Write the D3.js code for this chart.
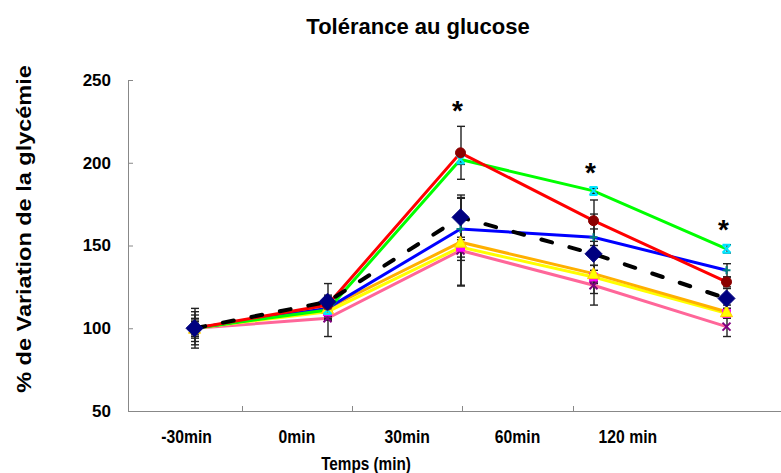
<!DOCTYPE html>
<html>
<head>
<meta charset="utf-8">
<script src="https://cdn.jsdelivr.net/npm/d3@7"></script>
<style>
  body { margin: 0; background: #fff; }
  svg { display: block; font-family: "Liberation Sans", Arial, sans-serif; }
  .axis path, .axis line { stroke: #888; }
  .axis text { font-size: 17px; font-weight: bold; fill: #000; }
  .errbar line { stroke: #222; stroke-width: 1.4; }
</style>
</head>
<body>
<div id="line-chart"></div>
<script>
// Data
var CATEGORIES = ["-30min", "0min", "30min", "60min", "120 min"];
var SIGNIFICANT = ["30min", "60min", "120 min"];

var RED_VALUES = [100, 114, 206, 165, 128];
var RED_ERR = [4, 6, 16, 12.5, 3];
var GREEN_VALUES = [100, 111, 202, 183, 148];
var GREEN_ERR = [3, 4, 3, 1.5, 2.5];
var BLUE_VALUES = [100, 112, 160, 155, 135];
var BLUE_ERR = [5, 7, 19, 5, 4];
var DASHED_VALUES = [100, 116, 167, 145, 118];
var DASHED_ERR = [12, 11, 13.5, 24, 6];
var ORANGE_VALUES = [100, 112, 152, 133, 110];
var ORANGE_ERR = [10, 6, 26.5, 5, 4];
var YELLOW_VALUES = [100, 110, 149, 131, 109];
var YELLOW_ERR = [8, 5, 6, 4, 3];
var PINK_VALUES = [100, 106, 147, 126, 101];
var PINK_ERR = [6, 11, 21, 12, 6];

var Y_TICKS = [50, 100, 150, 200, 250];

// Marker shapes
var MARKERS = {
  circle: "M5,0A5,5,0,1,1,-5,0A5,5,0,1,1,5,0Z",
  star: "M-4,-4L4,4M4,-4L-4,4M-4,-4H4M-4,4H4",
  plus: "M-4,0H4M0,-4V4",
  diamond: "M0,-8.5L8.5,0L0,8.5L-8.5,0Z",
  triangle: "M0,-6L6,5H-6Z",
  square: "M-4,-4H4V4H-4Z",
  cross: "M-4,-4L4,4M4,-4L-4,4"
};

// drawn bottom to top
var SERIES = [
  { values: PINK_VALUES, err: PINK_ERR, line: "#ff6699", marker: "cross", mColor: "#800080", filled: false },
  { values: YELLOW_VALUES, err: YELLOW_ERR, line: "#ffff00", marker: "square", mColor: "#ff00ff", filled: true },
  { values: ORANGE_VALUES, err: ORANGE_ERR, line: "#ffb000", marker: "triangle", mColor: "#ffff00", filled: true },
  { values: BLUE_VALUES, err: BLUE_ERR, line: "#0000ff", marker: "plus", mColor: "#008080", filled: false },
  { values: GREEN_VALUES, err: GREEN_ERR, line: "#00ff00", marker: "star", mColor: "#00e5ff", filled: false },
  { values: RED_VALUES, err: RED_ERR, line: "#ff0000", marker: "circle", mColor: "#8b0000", filled: true },
  { values: DASHED_VALUES, err: DASHED_ERR, line: "#000000", marker: "diamond", mColor: "#000080", filled: true, dashed: true }
];

var renderLineChart = function(config) {
  var width = 781;
  var height = 473;

  var svg = d3.select(config.container)
    .append("svg")
    .attr("width", width)
    .attr("height", height);

  // scales: category band for the axis, point scale for the marks
  var xBand = d3.scaleBand()
    .domain(CATEGORIES)
    .range([131.5, 683]);

  var xScale = d3.scalePoint()
    .domain(CATEGORIES)
    .range([128, 793])
    .padding(0.5);

  var yScale = d3.scaleLinear()
    .domain([50, 250])
    .range([411, 80]);

  // title
  svg.append("text")
    .attr("x", 418)
    .attr("y", 34)
    .attr("text-anchor", "middle")
    .style("font-size", "22px")
    .style("font-weight", "bold")
    .text("Tolérance au glucose");

  // y axis
  var yAxis = d3.axisLeft(yScale)
    .tickValues(Y_TICKS)
    .tickSizeInner(-5)
    .tickSizeOuter(0)
    .tickPadding(17);

  svg.append("g")
    .attr("class", "y axis")
    .attr("transform", "translate(128,0)")
    .call(yAxis);

  // x axis
  var xAxis = svg.append("g")
    .attr("class", "x axis")
    .attr("transform", "translate(0,411)");

  xAxis.append("line")
    .attr("x1", 128)
    .attr("x2", width)
    .attr("y1", 0.5)
    .attr("y2", 0.5);

  xAxis.selectAll("line.tick")
    .data(CATEGORIES.slice(1))
    .enter()
    .append("line")
    .attr("class", "tick")
    .attr("x1", d => Math.round(xBand(d)) + 0.5)
    .attr("x2", d => Math.round(xBand(d)) + 0.5)
    .attr("y1", 0)
    .attr("y2", -5);

  xAxis.selectAll("text")
    .data(CATEGORIES)
    .enter()
    .append("text")
    .attr("text-anchor", "middle")
    .attr("transform", d => `translate(${xBand(d) + xBand.bandwidth() / 2},32) scale(0.85,1)`)
    .style("font-size", "18.5px")
    .text(d => d);

  // axis titles
  svg.append("text")
    .attr("transform", "translate(366,470) scale(0.85,1)")
    .attr("text-anchor", "middle")
    .style("font-size", "18px")
    .style("font-weight", "bold")
    .text("Temps (min)");

  svg.append("text")
    .attr("transform", "translate(31,229) scale(0.85,1) rotate(-90)")
    .attr("text-anchor", "middle")
    .style("font-size", "23.5px")
    .style("font-weight", "bold")
    .text("% de Variation de la glycémie");

  // lines
  var line = d3.line()
    .x((d, i) => xScale(CATEGORIES[i]))
    .y(d => yScale(d));

  svg.append("g")
    .attr("class", "lines")
    .selectAll("path")
    .data(SERIES)
    .enter()
    .append("path")
    .attr("d", d => line(d.values))
    .attr("fill", "none")
    .attr("stroke", d => d.line)
    .attr("stroke-width", d => d.dashed ? 4 : 3)
    .attr("stroke-linecap", d => d.dashed ? "round" : "butt")
    .attr("stroke-dasharray", d => d.dashed ? "11,18" : null);

  // error bars
  var errData = [];
  SERIES.forEach(function(s) {
    s.values.forEach(function(v, i) {
      errData.push({ cat: CATEGORIES[i], hi: v + s.err[i], lo: v - s.err[i] });
    });
  });

  var errGroups = svg.append("g")
    .attr("class", "errbar")
    .selectAll("g")
    .data(errData)
    .enter()
    .append("g")
    .attr("transform", d => `translate(${Math.round(xScale(d.cat))},0)`);

  errGroups.append("line")
    .attr("y1", d => yScale(d.hi))
    .attr("y2", d => yScale(d.lo));
  errGroups.append("line")
    .attr("x1", -4).attr("x2", 4)
    .attr("y1", d => yScale(d.hi))
    .attr("y2", d => yScale(d.hi));
  errGroups.append("line")
    .attr("x1", -4).attr("x2", 4)
    .attr("y1", d => yScale(d.lo))
    .attr("y2", d => yScale(d.lo));

  // markers
  SERIES.forEach(function(s) {
    svg.append("g")
      .attr("class", "markers")
      .selectAll("path")
      .data(s.values)
      .enter()
      .append("path")
      .attr("transform", (d, i) => `translate(${xScale(CATEGORIES[i])},${yScale(d)})`)
      .attr("d", MARKERS[s.marker])
      .attr("fill", s.filled ? s.mColor : "none")
      .attr("stroke", s.filled ? (s.marker == "triangle" ? "#ffcc00" : s.mColor) : s.mColor)
      .attr("stroke-width", s.filled ? 1 : 2);
  });

  // significance stars above the highest error bar
  svg.append("g")
    .attr("class", "stars")
    .selectAll("text")
    .data(SIGNIFICANT)
    .enter()
    .append("text")
    .attr("x", d => xScale(d) - 3)
    .attr("y", function(d) {
      var i = CATEGORIES.indexOf(d);
      var top = d3.max(SERIES, s => s.values[i] + s.err[i]);
      return yScale(top) - 6;
    })
    .attr("text-anchor", "middle")
    .style("font-size", "28px")
    .style("font-weight", "bold")
    .text("*");
};

renderLineChart({ container: "#line-chart" });
</script>
</body>
</html>
